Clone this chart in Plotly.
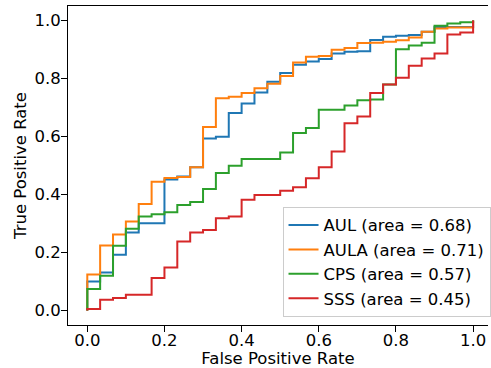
import plotly.graph_objects as go

# False positive rate grid shared by all curves (30 negatives)
FPR = [0.0, 0.0, 0.0333, 0.0667, 0.1, 0.1333, 0.1667, 0.2, 0.2333, 0.2667, 0.3,
       0.3333, 0.3667, 0.4, 0.4333, 0.4667, 0.5, 0.5333, 0.5667, 0.6, 0.6333,
       0.6667, 0.7, 0.7333, 0.7667, 0.8, 0.8333, 0.8667, 0.9, 0.9333, 0.9667, 1.0]

TPR_AUL = [0.0, 0.100, 0.131, 0.192, 0.269, 0.301, 0.301, 0.452, 0.462, 0.494, 0.593,
           0.599, 0.681, 0.714, 0.752, 0.789, 0.819, 0.847, 0.859, 0.867, 0.886,
           0.892, 0.894, 0.933, 0.944, 0.947, 0.950, 0.961, 0.978, 0.978, 0.978, 1.0]
TPR_AULA = [0.0, 0.124, 0.224, 0.262, 0.307, 0.367, 0.444, 0.457, 0.460, 0.494, 0.633,
            0.732, 0.737, 0.750, 0.766, 0.782, 0.809, 0.855, 0.875, 0.878, 0.899,
            0.905, 0.922, 0.923, 0.927, 0.932, 0.941, 0.961, 0.972, 0.976, 0.976, 1.0]
TPR_CPS = [0.0, 0.074, 0.120, 0.223, 0.282, 0.324, 0.332, 0.339, 0.364, 0.374, 0.419,
           0.474, 0.499, 0.522, 0.522, 0.522, 0.545, 0.612, 0.629, 0.692, 0.692,
           0.707, 0.725, 0.728, 0.779, 0.901, 0.914, 0.923, 0.982, 0.990, 0.994, 1.0]
TPR_SSS = [0.0, 0.005, 0.037, 0.043, 0.054, 0.054, 0.112, 0.148, 0.238, 0.269, 0.278,
           0.318, 0.324, 0.382, 0.398, 0.398, 0.413, 0.425, 0.456, 0.494, 0.548,
           0.646, 0.669, 0.750, 0.779, 0.803, 0.844, 0.869, 0.886, 0.952, 0.959, 1.0]

NAMES = ["AUL", "AULA", "CPS", "SSS"]
AREAS = [0.68, 0.71, 0.57, 0.45]
SERIES = [TPR_AUL, TPR_AULA, TPR_CPS, TPR_SSS]
COLORS = ["#1f77b4", "#ff7f0e", "#2ca02c", "#d62728"]

TICKS = [0.0, 0.2, 0.4, 0.6, 0.8, 1.0]
TICK_LABELS = ["0.0", "0.2", "0.4", "0.6", "0.8", "1.0"]

FONT = "DejaVu Sans"
FS = 16.5

fig = go.Figure()
for name, area, tpr, color in zip(NAMES, AREAS, SERIES, COLORS):
    fig.add_trace(go.Scatter(
        x=FPR, y=tpr, mode="lines", line=dict(color=color, width=2, shape="hv"),
        name=f"{name} (area = {area:.2f})",
    ))

fig.update_layout(
    width=491, height=368,
    margin=dict(l=68, r=0, t=6, b=43),
    paper_bgcolor="white", plot_bgcolor="white",
    font=dict(family=FONT, size=FS, color="black"),
    showlegend=True,
    legend=dict(
        x=1.006, y=0.026, xanchor="right", yanchor="bottom",
        bgcolor="rgba(255,255,255,0.8)", bordercolor="#cccccc", borderwidth=1,
        font=dict(family=FONT, size=FS, color="black"),
        tracegroupgap=0, entrywidth=162, entrywidthmode="pixels",
    ),
)
fig.update_xaxes(
    range=[-0.05, 1.0386], showgrid=False, zeroline=False,
    showline=True, linecolor="black", linewidth=1, mirror=True,
    ticks="outside", ticklen=6, tickwidth=1, tickcolor="black",
    tickvals=TICKS, ticktext=TICK_LABELS, ticklabelstandoff=-6,
    title=dict(text="False Positive Rate", font=dict(family=FONT, size=FS), standoff=12),
    automargin=False,
)
fig.update_yaxes(
    range=[-0.05, 1.05], showgrid=False, zeroline=False,
    showline=True, linecolor="black", linewidth=1, mirror=False,
    ticks="outside", ticklen=6, tickwidth=1, tickcolor="black",
    tickvals=TICKS, ticktext=TICK_LABELS, ticklabelstandoff=-3,
    title=dict(text="True Positive Rate", font=dict(family=FONT, size=FS), standoff=3),
    automargin=False,
)

fig.write_html(
    "out.html",
    config={"displayModeBar": False},
    post_script="document.body.style.margin='0px';document.body.style.overflow='hidden';",
)
